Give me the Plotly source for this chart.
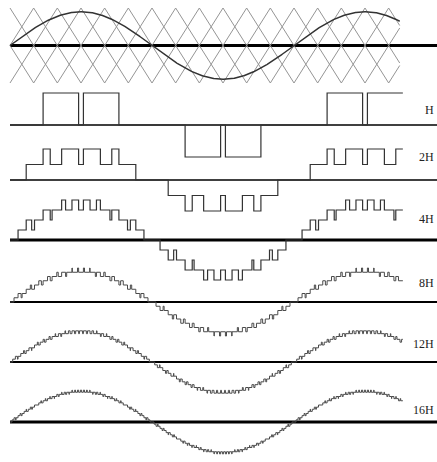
import numpy as np
import plotly.graph_objects as go

# ---------------- data ----------------
row_labels = ["H", "2H", "4H", "8H", "12H", "16H"]
cells_per_row = [1, 2, 4, 8, 12, 16]        # number of H-bridge cells in each row
modulation_index = 0.9                       # sine peak / carrier peak
carrier_period_deg = 120                     # carrier frequency = 3 x fundamental
carrier_peaks_drawn_deg = [60, 90, 120, 150] # peak phases of the 4 carriers drawn on top
sine_end_deg = 494
wave_end_deg = 498

# ---------------- layout / style (pixels of the 437x462 page) ----------------
W, H = 437, 462
PX_PER_DEG = 284 / 360.0
X0_PX = 10
row_center_px = [45.5, 125, 180, 240, 302, 362, 422]
row_unit_px = [37.5, 32, 31, 40, 34, 34, 34]
baseline_width = [3, 1.5, 1.5, 3, 2, 2, 3]
wave_width = [1.2, 1.2, 1.2, 1.0, 1.0, 1.0]
wave_color = ["#333333", "#333333", "#333333", "#4a4a4a", "#4a4a4a", "#4a4a4a"]
label_right_px = 436
label_y_px = [110, 157, 219, 283, 344, 410]


def tri(theta, peak):
    u = np.mod(theta - peak, carrier_period_deg)
    d = np.minimum(u, carrier_period_deg - u)
    return 1 - d / (carrier_period_deg / 4.0)


def pwm_levels(theta, n):
    s = modulation_index * np.sin(np.radians(theta))
    count = np.zeros_like(theta)
    half = carrier_period_deg / 2.0
    for k in range(2 * n):
        count += (s > tri(theta, 90 + k * half / n))
    return (count - n) / n


fig = go.Figure()


def yname(i):
    return "y" if i == 0 else f"y{i+1}"


# baselines
for i in range(7):
    fig.add_trace(go.Scatter(x=[0, 560], y=[0, 0], mode="lines", yaxis=yname(i),
                             line=dict(color="black", width=baseline_width[i]),
                             hoverinfo="skip"))

# carriers (exact vertices)
for p in carrier_peaks_drawn_deg:
    verts = [0.0]
    for n in range(-2, 8):
        for v in (p + carrier_period_deg * n, p + carrier_period_deg * n + carrier_period_deg / 2):
            if 0 < v < sine_end_deg:
                verts.append(v)
    verts.append(float(sine_end_deg))
    verts = np.array(sorted(verts))
    fig.add_trace(go.Scatter(x=verts, y=tri(verts, p), mode="lines", yaxis="y",
                             line=dict(color="#959595", width=1), hoverinfo="skip"))

# reference sine
th = np.arange(0, sine_end_deg + 0.01, 0.5)
fig.add_trace(go.Scatter(x=th, y=modulation_index * np.sin(np.radians(th)), mode="lines",
                         yaxis="y", line=dict(color="#333333", width=1.5), hoverinfo="skip"))

# multilevel outputs
grid = np.arange(0.013, wave_end_deg, 0.02)
for r, n in enumerate(cells_per_row):
    lv = pwm_levels(grid, n)
    ch = np.nonzero(np.diff(lv))[0] + 1
    xs = np.concatenate([[0.0], grid[ch], [wave_end_deg]])
    ys = np.concatenate([[lv[0]], lv[ch], [lv[-1]]])
    fig.add_trace(go.Scatter(x=xs, y=ys, mode="lines", line_shape="hv", yaxis=yname(r + 1),
                             line=dict(color=wave_color[r], width=wave_width[r]), hoverinfo="skip"))

layout = dict(
    width=W, height=H, margin=dict(l=0, r=0, t=0, b=0),
    paper_bgcolor="white", plot_bgcolor="rgba(0,0,0,0)", showlegend=False,
    xaxis=dict(range=[(0 - X0_PX) / PX_PER_DEG, (W - X0_PX) / PX_PER_DEG],
               visible=False, domain=[0, 1]),
)
for i in range(7):
    c, u = row_center_px[i], row_unit_px[i]
    ax = dict(range=[-(H - c) / u, c / u], visible=False, anchor="x", domain=[0, 1])
    if i > 0:
        ax["overlaying"] = "y"
    layout["yaxis" if i == 0 else f"yaxis{i+1}"] = ax
fig.update_layout(**layout)

for lab, ly in zip(row_labels, label_y_px):
    fig.add_annotation(text=lab, xref="paper", yref="paper", x=label_right_px / W, y=1 - ly / H,
                       xanchor="right", yanchor="middle", showarrow=False,
                       font=dict(family="Liberation Serif", size=12, color="#222222"))

fig.write_html("out.html", config={"displayModeBar": False},
               post_script="document.body.style.margin='0px';document.body.style.overflow='hidden';")
